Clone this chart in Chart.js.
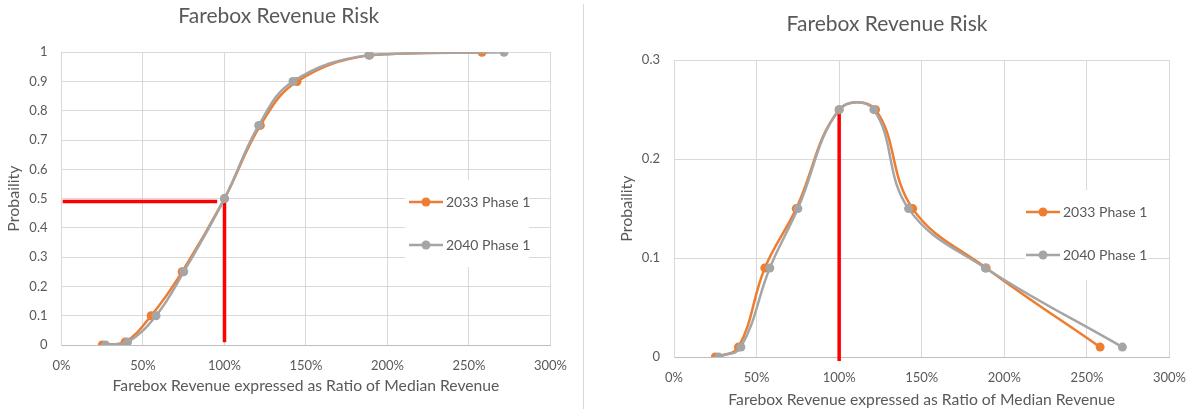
<!DOCTYPE html>
<html>
<head>
<meta charset="utf-8">
<script src="https://cdn.jsdelivr.net/npm/chart.js@4.4.1/dist/chart.umd.min.js"></script>
<style>
  html, body { margin: 0; padding: 0; background: #fff; }
  #wrap { position: relative; width: 1199px; height: 413px; overflow: hidden; }
  #cdf { position: absolute; left: 0; top: 0; }
  #pdf { position: absolute; left: 600px; top: 0; }
  #sep { position: absolute; left: 583px; top: 4px; width: 1px; height: 405px; background: #d9d9d9; }
</style>
</head>
<body>
<div id="wrap">
  <canvas id="cdf" width="580" height="413"></canvas>
  <div id="sep"></div>
  <canvas id="pdf" width="599" height="413"></canvas>
</div>
<script>
/* ── data ── */
const SERIES = ['2033 Phase 1', '2040 Phase 1'];
const ratio2033 = [25, 39, 55, 74, 100, 122, 144.5, 189, 258];
const ratio2040 = [27, 40.5, 58, 75, 100, 121, 142, 188.5, 271.5];
const cumProb   = [0, 0.01, 0.1, 0.25, 0.5, 0.75, 0.9, 0.99, 1];
const prob      = [0, 0.01, 0.09, 0.15, 0.25, 0.25, 0.15, 0.09, 0.01];

// red guide lines at the median
const cdfGuideX = [0.7, 95.5];
const cdfGuideY = [0.49, 0.49];
const cdfDropX  = [100, 100];
const cdfDropY  = [0.49, 0.009];
const pdfDropX  = [100, 100];
const pdfDropY  = [0.248, -0.004];

const TITLE = 'Farebox Revenue Risk';
const X_TITLE = 'Farebox Revenue expressed as Ratio of Median Revenue';
const Y_TITLE = 'Probaility';

const ORANGE = '#ED7D31';
const GREY   = '#A5A5A5';
const RED    = '#FF0000';
const TEXT   = '#595959';
const GRID   = '#d9d9d9';
const FONT   = "Lato, 'Open Sans', sans-serif";

Chart.defaults.font.family = FONT;
Chart.defaults.color = TEXT;

const zip = (xs, ys) => xs.map((x, i) => ({ x, y: ys[i] }));

/* ─── legend drawn inside the plot on a white box ─── */
const boxLegend = {
  id: 'boxLegend',
  beforeDatasetsDraw(chart, args, opts) {
    const ctx = chart.ctx;
    ctx.save();
    ctx.fillStyle = '#fff';
    ctx.fillRect(opts.box[0], opts.box[1], opts.box[2], opts.box[3]);
    chart.data.datasets.filter(d => d.inLegend).forEach((d, i) => {
      const y = opts.y + i * opts.gap;
      ctx.strokeStyle = d.borderColor;
      ctx.lineWidth = 2.5;
      ctx.beginPath();
      ctx.moveTo(opts.x, y);
      ctx.lineTo(opts.x + 34, y);
      ctx.stroke();
      ctx.fillStyle = d.backgroundColor;
      ctx.beginPath();
      ctx.arc(opts.x + 17, y, 4.5, 0, Math.PI * 2);
      ctx.fill();
      ctx.fillStyle = TEXT;
      ctx.font = '14px ' + FONT;
      ctx.textBaseline = 'middle';
      ctx.textAlign = 'left';
      ctx.fillText(d.label, opts.x + 37, y);
    });
    ctx.restore();
  }
};

function seriesSet(label, xs, ys, color, order) {
  return {
    label, data: zip(xs, ys), inLegend: true, order,
    showLine: true, tension: 0.4,
    borderColor: color, backgroundColor: color,
    borderWidth: 2.5, pointRadius: 4.5, pointBorderWidth: 0,
  };
}

function guideSet(xs, ys) {
  return {
    label: 'guide', data: zip(xs, ys), order: 5, clip: false,
    showLine: true, tension: 0,
    borderColor: RED, borderWidth: 3.5, pointRadius: 0,
  };
}

function makeChart(id, datasets, c) {
  new Chart(document.getElementById(id), {
    type: 'scatter',
    data: { datasets },
    options: {
      responsive: false,
      animation: false,
      events: [],
      layout: { padding: { left: 0, right: c.padRight, top: 0, bottom: 0 } },
      plugins: {
        legend: { display: false },
        tooltip: { enabled: false },
        title: {
          display: true, text: TITLE, color: TEXT,
          font: { size: 21, weight: 'normal' },
          padding: { top: c.titleTop, bottom: c.titleBottom }
        },
        boxLegend: c.legend
      },
      scales: {
        x: {
          type: 'linear', min: 0, max: 300,
          afterFit: s => { s.height = c.xHeight; },
          grid: { color: GRID, drawTicks: false },
          border: { color: '#bfbfbf' },
          ticks: { stepSize: 50, padding: c.xTickPad, font: { size: 13 }, callback: v => v + '%' },
          title: { display: true, text: X_TITLE, font: { size: 15.7 }, padding: { top: 0, bottom: c.xTitlePad } }
        },
        y: {
          min: 0, max: c.yMax,
          afterFit: s => { s.width = c.yWidth; },
          grid: { color: GRID, drawTicks: false },
          border: { color: GRID },
          ticks: { stepSize: 0.1, padding: 14, font: { size: 13 }, callback: v => String(Number(v.toFixed(2))) },
          title: { display: true, text: Y_TITLE, font: { size: 16 }, padding: { top: c.yTitlePad, bottom: 0 } }
        }
      }
    },
    plugins: [boxLegend]
  });
}

/* ═══ left: cumulative probability ═══ */
makeChart('cdf', [
  seriesSet(SERIES[0], ratio2033, cumProb, ORANGE, 2),
  seriesSet(SERIES[1], ratio2040, cumProb, GREY, 1),
  guideSet(cdfGuideX, cdfGuideY),
  guideSet(cdfDropX, cdfDropY)
], {
  padRight: 22.5, titleTop: 4, titleBottom: 23,
  xHeight: 68, xTickPad: 13, xTitlePad: 18,
  yWidth: 61.5, yTitlePad: 4, yMax: 1,
  legend: { box: [405, 180, 124, 87], x: 409, y: 202, gap: 43 }
});

/* ═══ right: probability ═══ */
makeChart('pdf', [
  seriesSet(SERIES[0], ratio2033, prob, ORANGE, 2),
  seriesSet(SERIES[1], ratio2040, prob, GREY, 1),
  guideSet(pdfDropX, pdfDropY)
], {
  padRight: 25, titleTop: 12, titleBottom: 23,
  xHeight: 56, xTickPad: 13, xTitlePad: 4,
  yWidth: 74, yTitlePad: 17, yMax: 0.3,
  legend: { box: [425, 190, 123, 90], x: 426, y: 212, gap: 43 }
});
</script>
</body>
</html>
